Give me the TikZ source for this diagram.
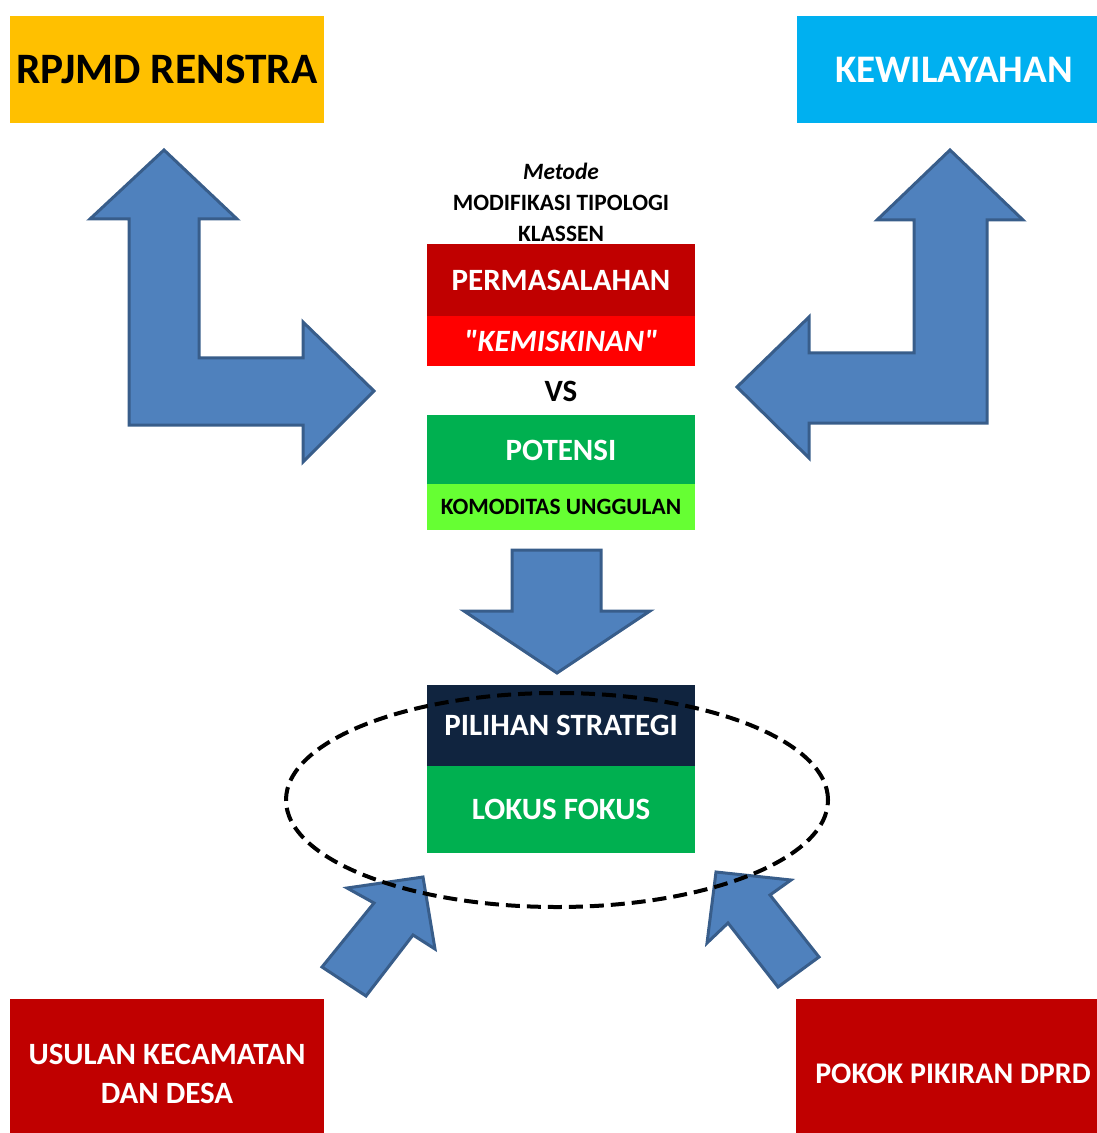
\documentclass[tikz,border=0pt]{standalone}
\usepackage{fontspec}
\setmainfont{Carlito}
\newfontfamily\lurus{Carlito}[Ligatures=TeXOff]
\definecolor{kuning}{HTML}{FFC000}
\definecolor{biru}{HTML}{00B0F0}
\definecolor{merahtua}{HTML}{C00000}
\definecolor{merah}{HTML}{FF0000}
\definecolor{hijau}{HTML}{00B050}
\definecolor{hijaumuda}{HTML}{66FF33}
\definecolor{navy}{HTML}{10243F}
\definecolor{panahisi}{HTML}{4F81BD}
\definecolor{panahtepi}{HTML}{385D8A}
\begin{document}
\begin{tikzpicture}[
    x=0.5pt, y=-0.5pt,
    blk/.style={rectangle, inner sep=0pt, text=white, align=center, font=\bfseries\fontsize{15.5}{19.5}\selectfont},
    side/.style={blk, minimum width=157pt},
    mid/.style={blk, minimum width=134pt},
    lbl/.style={align=center, font=\bfseries\fontsize{11.7}{15.5}\selectfont},
    panah/.style={fill=panahisi, draw=panahtepi, line width=1.5pt, line join=miter}
]
    \useasboundingbox (0,0) rectangle (1096,1133);

    % --- 1. KOTAK ATAS ---
    \node[side, fill=kuning, minimum height=53.5pt, text=black, font=\bfseries\fontsize{21.7}{24}\selectfont] (rpjmd) at (167,69.5) {RPJMD RENSTRA};
    \node[side, fill=biru, minimum height=53.5pt, font=\bfseries\fontsize{19.5}{24}\selectfont] (wilayah) at (954,69.5) {KEWILAYAHAN};

    % --- 2. TENGAH ---
    \node[lbl] (metode) at (561,202) {\textit{Metode}\\MODIFIKASI TIPOLOGI\\KLASSEN};
    \node[mid, fill=merahtua, minimum height=36pt] (masalah) at (561,280.5) {PERMASALAHAN};
    \node[mid, fill=merah, minimum height=25pt] (miskin) at (561,341) {\lurus\itshape "KEMISKINAN"};
    \node[blk, text=black] (vs) at (561,391) {VS};
    \node[mid, fill=hijau, minimum height=35pt] (potensi) at (561,450) {POTENSI};
    \node[mid, fill=hijaumuda, minimum height=23pt, text=black, font=\bfseries\fontsize{11.7}{14}\selectfont] (komoditas) at (561,506.5) {KOMODITAS UNGGULAN};

    \node[mid, fill=navy, minimum height=41pt] (strategi) at (561,725.5) {PILIHAN STRATEGI};
    \node[mid, fill=hijau, minimum height=43.5pt] (lokus) at (561,809) {LOKUS FOKUS};

    % --- 3. KOTAK BAWAH ---
    \node[side, fill=merahtua, minimum height=75pt] (usulan) at (167,1073.5) {USULAN KECAMATAN\\DAN DESA};
    \node[side, fill=merahtua, minimum height=75pt, font=\bfseries\fontsize{15}{19.5}\selectfont] (pokir) at (953,1073.5) {POKOK PIKIRAN DPRD};

    % --- 4. PANAH ---
    \draw[panah] (164,150) -- (237,219) -- (199,219) -- (199,358) -- (303,358) -- (303,322) -- (374,391)
        -- (303,462) -- (303,425) -- (129,425) -- (129,219) -- (90,219) -- cycle;
    \draw[panah] (950,150) -- (1023,220) -- (987,220) -- (987,423) -- (809,423) -- (809,458) -- (737,387)
        -- (809,317) -- (809,353) -- (914,353) -- (914,220) -- (877,220) -- cycle;
    \draw[panah] (512,550) -- (601,550) -- (601,611) -- (650,611) -- (557,673) -- (464,611) -- (512,611) -- cycle;
    \draw[panah] (322,967) -- (374,903) -- (347,888) -- (423,877) -- (435,949) -- (413,935) -- (366,996) -- cycle;
    \draw[panah] (819,957) -- (770,895) -- (791,880) -- (716,872) -- (707,943) -- (728,923) -- (778,987) -- cycle;

    % --- 5. ELIPS ---
    \draw[line width=2pt, dash pattern=on 7pt off 3.5pt] (557,800) ellipse [x radius=135.5pt, y radius=53.5pt];
\end{tikzpicture}
\end{document}
